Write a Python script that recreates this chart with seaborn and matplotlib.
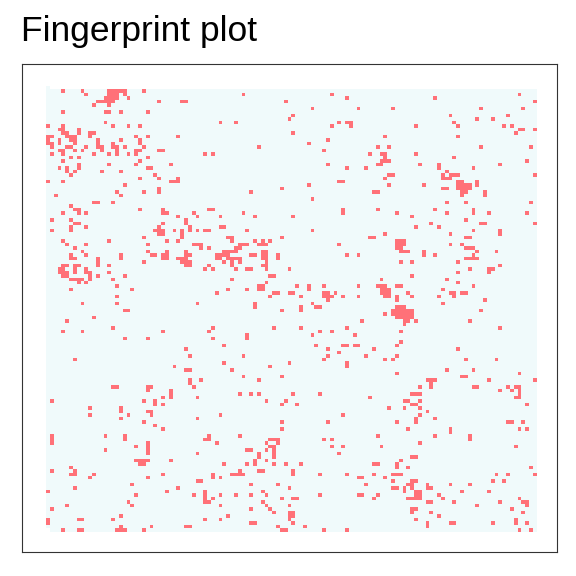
import numpy as np
import pandas as pd
import matplotlib
matplotlib.use("Agg")
import matplotlib.pyplot as plt
from matplotlib.colors import ListedColormap
import seaborn as sns

title = "Fingerprint plot"
n_rows = 128
n_cols = 128
color_off = "#F0FAFB"
color_on = "#FF7178"

# red (set) cells per row: row index -> column indices (ranges inclusive)
upper_hits = {
    1: "4 9 16-20 25",
    2: "10 16-18 20 51 74 123",
    3: "15-18 21 78 101",
    4: "13-17 29 35-36 62 127",
    5: "12 16",
    6: "69 81 90 113 124",
    7: "4 15-16 19 26",
    8: "64 105 120",
    9: "63 112 116",
    10: "15 45 49 76 78-79 106",
    11: "0 4 17 21 24 74 79 96 107 119 121",
    12: "3-4 8 123-124 127",
    13: "4-5 8 11-12 64 122",
    14: "0-1 5-7 11 23 26 34 88 107",
    15: "0 3 6-7 13 19 24 73",
    16: "0-1 3 7 13 17 24 68",
    17: "1 5-6 10 13-14 17-18 20 25 55 86 89 113 126",
    18: "3-4 7 9 14 18 23-24 29-30 72",
    19: "1 4 12 16 18 21 23 41 43 84 87-88 96",
    20: "6 8 26 88 106",
    21: "4 24 87-89 125",
    22: "8 16 23 32 73 86-87 97 102 118",
    23: "3 5 8 26-27 78 83 102 111",
    24: "5 7 14 19 104",
    25: "6 28 89-90 103 105-107 127",
    26: "24 29 34 88 103-105",
    27: "0 4 32-34 76-77 107-108 112",
    28: "20 68 89 98 107-110 112",
    29: "29 61 103-104 107-110",
    30: "18 25 29 53 85-86 108-109 114",
    31: "2 19 108 114",
    32: "69",
    33: "12-13 17 104 109 126",
    34: "6",
    35: "7-8 24 30 42-43 77 86 101 111",
    36: "4 8 10 30-31 38 51 77 91 104 111 115 125",
    37: "34 39 45 54 64 95",
    38: "1 6 36 109",
    39: "7-8 30 36 100 113-114 127",
    40: "6 10 29 37 45-46 96 102",
    41: "1 6 28-30 33 35 37 39 41-42 52 69 111 118",
    42: "29-30 35 88 105 118",
    43: "25 35 47-48 61 84-85 109-110",
    44: "4 16 31 34 48 54 56 58 91-93",
    45: "5 10 26 38-40 50-52 55-57 76 91-93 105 108",
    46: "7 40 42 49-50 91-92 109-111",
    47: "9 26 31 36 46-49 56-57 92-94 98 112 117",
    48: "6 10 19 27-28 30-31 36-37 44-47 53-54 56-57 60 78 81 98 101 111",
    49: "6-7 13 19 30-31 34-36 44-45 47-50 56-57 60 109-112",
    50: "13 25 35-37 46 48 50 57 92 95 107",
    51: "4-5 7-8 13 16 36-37 42 48 56-57 118",
    52: "3-4 7 10 41 43 49 52-53 57 63 110 115-116",
    53: "3-5 7 10-11 16 107 115",
    54: "4-5 11 13 20 58-59 95",
    55: "6-9 11 17 48 87 104",
    56: "8 10 57 107",
    57: "18 55-56 65 68 72 81 86-88 91-92 111",
    58: "6 22 47 52 55-56 68 87-89 103",
    59: "44 59-60 63-64 72-73 75 87-89 94 105-106 108-109",
    60: "18 58 66 72-74 77 81 88-89 91 95 102 106",
    61: "73 91 114",
    62: "9 18 39 54 69 103",
    63: "54 66 70-71 91-93",
}

lower_hits = {
    64: "20-21 61 66 90-95 113",
    65: "88 90-95",
    66: "12 91-95",
    67: "5 82 93-94 96 110",
    68: "93",
    69: "17 43 59 66 78 118",
    70: "4 9 30 42 71 74 92",
    71: "52 69 80",
    72: "20 26 43 52",
    73: "92",
    74: "46 70 77-78 80-81 91",
    75: "36 73 85 107",
    76: "76",
    77: "37 51 73 83 91",
    78: "7 72 88 90 109 117",
    79: "46 63 78",
    80: "33 58 78",
    81: "36-37 48 104 111",
    82: "91 123",
    83: "51 61 108-109",
    84: "37 40 55 99-101 115 127",
    85: "37 100",
    86: "17-18 26-27 38 97 100 111-112 120 122-123",
    87: "26 32 118 121 123",
    88: "32 50 53 55 64 71 95-97 123",
    89: "30 32 39 84 122-123",
    90: "1 25 28 57 62 93-94 97",
    91: "28 30 61 65 95-96 125",
    92: "11 19 89 93 97",
    93: "19 26-27 99",
    94: "11 21 27 45 77 97",
    95: "19 39 96 101",
    96: "25 61 73 91 96 120-121 124",
    97: "28",
    98: "30 61 94 105 123 125",
    99: "105",
    100: "1 15 20 42 50 86 101 110",
    101: "1 20 41-42 58-60 72 74 110",
    102: "1 26 44 57 60 97",
    103: "23 26 58-59 74 77 87 122",
    104: "15 26 52-53 57 59",
    105: "26 39 55 59 76",
    106: "55 59 95-96",
    107: "23-26 32 54 57 92",
    108: "24-25 46 52 54 59 62 66 85-86 91",
    109: "6 91 94 126",
    110: "1 7 50 55-56 64",
    111: "6-7 12 30 43 48-51 64 71 78 85 90-92 117 120 127",
    112: "11 26 43 45 81-82 88",
    113: "39-40 90 95-96 116 119",
    114: "22 53 60 83 94-95 99 105 110",
    115: "7 34 63 90-91 93 95 99-100",
    116: "0 31 41 56 93 96-97 108 115",
    117: "23 38 41 45 49 53 57 71 81-82 86 96-97 102",
    118: "41 43 61 64-65 85 94-97 103 123",
    119: "21 41-42 56 99-100 106 118 124-125",
    120: "5 22 45 57 63 112 125",
    121: "1 53 58 95-96 121",
    122: "59 63-64 95 100 124",
    123: "19 47 63-64 102",
    124: "0 8-9 17 41 45 63 96 122",
    125: "0 53-54 64 99 105-106 116 122 125",
    126: "19 27 36-37 60 67 99",
    127: "4 8-9 18-20 25 61-62 72 78 123 126",
}

# cells outside the fingerprint (empty)
empty_cells = [(0, c) for c in range(1, n_cols)] + [(n_rows - 1, 0)]


def parse(spec):
    cols = []
    for tok in spec.split():
        if "-" in tok:
            a, b = tok.split("-")
            cols.extend(range(int(a), int(b) + 1))
        else:
            cols.append(int(tok))
    return cols


mat = np.zeros((n_rows, n_cols))
for hits in (upper_hits, lower_hits):
    for r, spec in hits.items():
        for c in parse(spec):
            if 0 <= c < n_cols:
                mat[r, c] = 1
for r, c in empty_cells:
    mat[r, c] = np.nan

df = pd.DataFrame(mat)

sns.set_theme(style="white")
plt.rcParams["font.family"] = ["Liberation Sans", "DejaVu Sans"]

fig = plt.figure(figsize=(5.76, 5.76), dpi=100)
W = H = 576
ax = fig.add_axes([22 / W, 1 - 552 / H, (557 - 22) / W, (552 - 64) / H])

sns.heatmap(df, ax=ax, cmap=ListedColormap([color_off, color_on]),
            vmin=0, vmax=1, cbar=False, xticklabels=False, yticklabels=False)

# margins around the grid (panel expansion)
cell_w = (536.7 - 46) / n_cols
cell_h = (531.7 - 86) / n_rows
ax.set_xlim(-(46 - 22) / cell_w, n_cols + (557 - 536.7) / cell_w)
ax.set_ylim(n_rows + (552 - 531.7) / cell_h, -(86 - 64) / cell_h)
ax.set_xlabel("")
ax.set_ylabel("")
ax.set_facecolor("white")
for s in ax.spines.values():
    s.set_visible(True)
    s.set_color("#333333")
    s.set_linewidth(0.8)

fig.text(21 / W, 1 - 41 / H, title, fontsize=25.5, ha="left", va="baseline",
         color="black")

fig.savefig("out.png", dpi=100, facecolor="white")
